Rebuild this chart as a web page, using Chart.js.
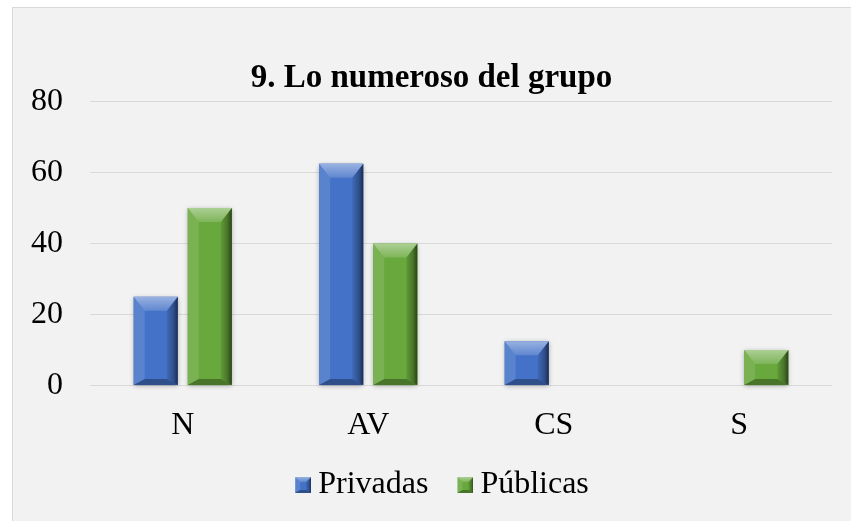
<!DOCTYPE html>
<html>
<head>
<meta charset="utf-8">
<script src="https://cdn.jsdelivr.net/npm/chart.js@4.4.1/dist/chart.umd.min.js"></script>
<style>
  html, body { margin: 0; padding: 0; background: #ffffff; overflow: hidden; }
  #box {
    position: absolute; left: 12px; top: 7px;
    width: 845px; height: 520px;
    background: #f2f2f2; border: 1px solid #d9d9d9;
  }
  #wrap { position: absolute; left: 0; top: 0; width: 839px; height: 514px; }
</style>
</head>
<body>
<div id="box"><div id="wrap"><canvas id="myChart"></canvas></div></div>
<script>
const categories = ['N', 'AV', 'CS', 'S'];
const privadas = [25, 62.5, 12.5, 0];
const publicas = [50, 40, 0, 10];
const yTicks = [0, 20, 40, 60, 80];

const serif = "'Liberation Serif', 'Times New Roman', serif";
const blue = '#4472c8';
const green = '#68a83c';

// draw the bevel overlay on a rect (bars and legend squares)
function bevel(ctx, l, top, r, bottom, side, bt, bb) {
    ctx.save();
    ctx.fillStyle = 'rgba(255,255,255,0.12)';
    ctx.beginPath();
    ctx.moveTo(l, top); ctx.lineTo(l + side, top + bt);
    ctx.lineTo(l + side, bottom - bb); ctx.lineTo(l, bottom);
    ctx.closePath(); ctx.fill();

    const gr = ctx.createLinearGradient(r - side, 0, r, 0);
    gr.addColorStop(0, 'rgba(0,0,0,0.08)');
    gr.addColorStop(0.6, 'rgba(0,0,0,0.3)');
    gr.addColorStop(1, 'rgba(0,0,0,0.6)');
    ctx.fillStyle = gr;
    ctx.beginPath();
    ctx.moveTo(r, top); ctx.lineTo(r - side, top + bt);
    ctx.lineTo(r - side, bottom - bb); ctx.lineTo(r, bottom);
    ctx.closePath(); ctx.fill();

    const gt = ctx.createLinearGradient(0, top, 0, top + bt);
    gt.addColorStop(0, 'rgba(255,255,255,0.45)');
    gt.addColorStop(1, 'rgba(255,255,255,0.15)');
    ctx.fillStyle = gt;
    ctx.beginPath();
    ctx.moveTo(l, top); ctx.lineTo(r, top);
    ctx.lineTo(r - side, top + bt); ctx.lineTo(l + side, top + bt);
    ctx.closePath(); ctx.fill();

    ctx.fillStyle = 'rgba(0,0,0,0.3)';
    ctx.beginPath();
    ctx.moveTo(l, bottom); ctx.lineTo(r, bottom);
    ctx.lineTo(r - side, bottom - bb); ctx.lineTo(l + side, bottom - bb);
    ctx.closePath(); ctx.fill();
    ctx.restore();
}

// legend icon: 16px square sitting on the right of a wider transparent canvas
function legendIcon(color) {
    const c = document.createElement('canvas');
    c.width = 34; c.height = 16;
    const x = c.getContext('2d');
    x.fillStyle = color;
    x.fillRect(18, 0, 16, 16);
    bevel(x, 18, 0, 34, 16, 5, 5, 3);
    return c;
}
const icons = [legendIcon(blue), legendIcon(green)];

const bevelBars = {
    id: 'bevelBars',
    afterLayout(chart) {
        // nudge legend a little to the right, like the original
        chart.legend.left += 6;
        chart.legend.right += 6;
    },
    beforeDatasetsDraw(chart) {
        const ctx = chart.ctx;
        chart.data.datasets.forEach((ds, i) => {
            chart.getDatasetMeta(i).data.forEach((bar) => {
                const p = bar.getProps(['x', 'y', 'base', 'width'], true);
                const top = Math.min(p.y, p.base), bottom = Math.max(p.y, p.base);
                if (bottom - top < 1) return;
                ctx.save();
                ctx.shadowColor = 'rgba(0,0,0,0.35)';
                ctx.shadowBlur = 5;
                ctx.shadowOffsetY = 1;
                ctx.fillStyle = ds.backgroundColor;
                ctx.fillRect(p.x - p.width / 2, top, p.width, bottom - top);
                ctx.restore();
            });
        });
    },
    afterDatasetsDraw(chart) {
        const ctx = chart.ctx;
        chart.data.datasets.forEach((ds, i) => {
            chart.getDatasetMeta(i).data.forEach((bar) => {
                const p = bar.getProps(['x', 'y', 'base', 'width'], true);
                const top = Math.min(p.y, p.base), bottom = Math.max(p.y, p.base);
                const h = bottom - top;
                if (h < 1) return;
                bevel(ctx, p.x - p.width / 2, top, p.x + p.width / 2, bottom,
                    Math.min(11, p.width / 4), Math.min(14, h / 2.2), Math.min(6, h / 4));
            });
        });
    }
};

const graph = document.getElementById('myChart').getContext('2d');

const myChart = new Chart(graph, {
    type: 'bar',
    data: {
        labels: categories,
        datasets: [{
            label: 'Privadas',
            data: privadas,
            backgroundColor: blue,
            categoryPercentage: 0.583,
            barPercentage: 0.815
        }, {
            label: 'Públicas',
            data: publicas,
            backgroundColor: green,
            categoryPercentage: 0.583,
            barPercentage: 0.815
        }]
    },
    options: {
        responsive: true,
        maintainAspectRatio: false,
        animation: false,
        layout: {
            padding: { top: 51, left: 18, right: 20, bottom: 11 }
        },
        plugins: {
            title: {
                display: true,
                text: '9. Lo numeroso del grupo',
                color: '#000',
                font: { family: serif, size: 33, weight: 'bold' },
                padding: { top: 0, bottom: 3 }
            },
            legend: {
                position: 'bottom',
                labels: {
                    color: '#000',
                    font: { family: serif, size: 32 },
                    usePointStyle: true,
                    boxWidth: 16,
                    boxHeight: 16,
                    padding: 20,
                    generateLabels(chart) {
                        const items = Chart.defaults.plugins.legend.labels.generateLabels(chart);
                        items.forEach((it, i) => { it.pointStyle = icons[i]; });
                        return items;
                    }
                }
            },
            tooltip: { enabled: false }
        },
        scales: {
            x: {
                grid: { display: false, drawTicks: false },
                border: { display: false },
                ticks: {
                    color: '#000',
                    font: { family: serif, size: 32 },
                    padding: 21
                },
                afterFit(axis) { axis.height -= 17; }
            },
            y: {
                min: 0,
                max: 80,
                afterBuildTicks: (axis) => { axis.ticks = yTicks.map(v => ({ value: v })); },
                grid: { color: '#d9d9d9', drawTicks: false },
                border: { display: false },
                ticks: {
                    color: '#000',
                    font: { family: serif, size: 32 },
                    padding: 27
                },
                afterFit(axis) { axis.width = 59; }
            }
        }
    },
    plugins: [bevelBars]
});
</script>
</body>
</html>
